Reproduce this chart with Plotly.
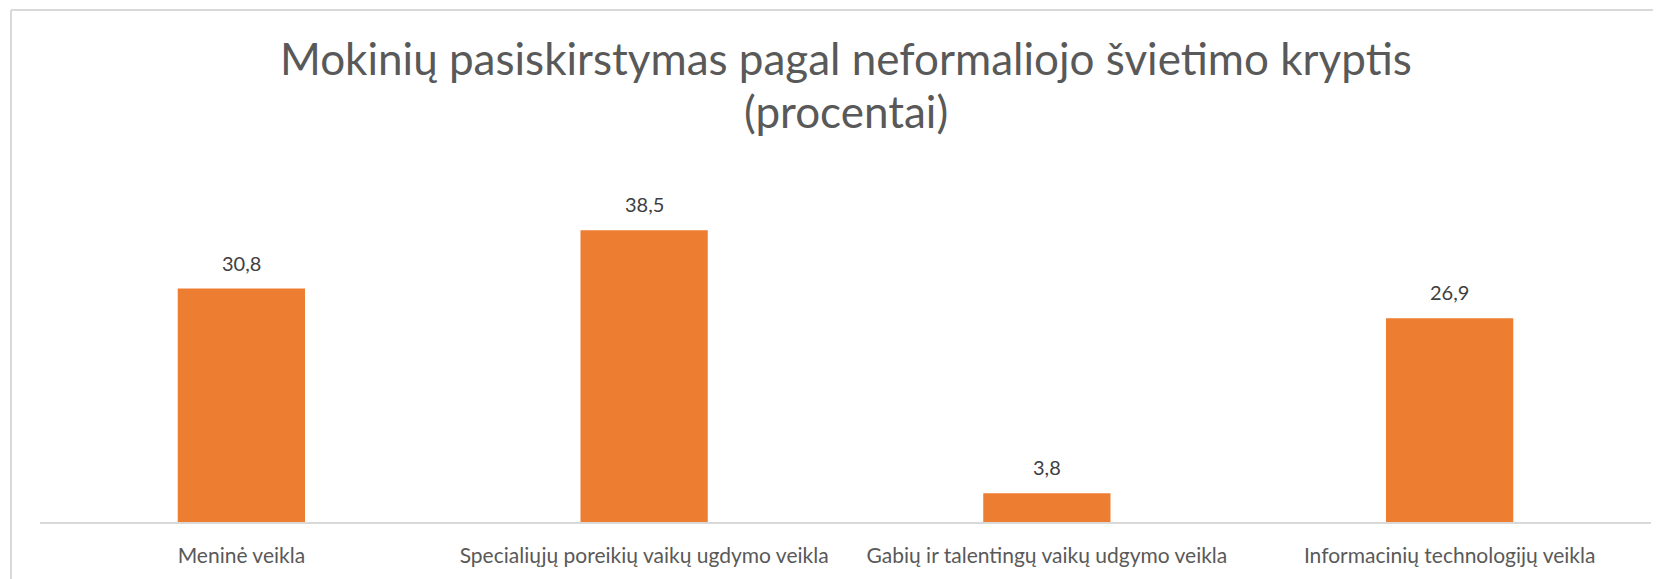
import plotly.graph_objects as go

categories = [
    "Meninė veikla",
    "Specialiųjų poreikių vaikų ugdymo veikla",
    "Gabių ir talentingų vaikų udgymo veikla",
    "Informacinių technologijų veikla",
]
values = [30.8, 38.5, 3.8, 26.9]
title_lines = ["Mokinių pasiskirstymas pagal neformaliojo švietimo kryptis", "(procentai)"]

FONT = "Lato"
BAR_COLOR = "#ED7D31"

# figure geometry (page has an 8px body margin)
W, H = 1653, 571
ML, MR, MT, MB = 32, 10, 173, 57
PH = H - MT - MB  # plot height in px
PW = W - ML - MR


def py(fig_y):
    """figure-pixel y -> paper y"""
    return (H - MB - fig_y) / PH


def px(fig_x):
    return (fig_x - ML) / PW


fig = go.Figure()
fig.add_trace(go.Bar(
    x=categories,
    y=values,
    marker=dict(color=BAR_COLOR, line=dict(width=0)),
    hoverinfo="skip",
))

for c, v in zip(categories, values):
    fig.add_annotation(
        x=c, y=v, xref="x", yref="y",
        text=f"{v:.1f}".replace(".", ","),
        showarrow=False, yanchor="middle", yshift=26,
        font=dict(family=FONT, size=20, color="#404040"),
    )

# title lines
for line, fy in zip(title_lines, [50, 103]):
    fig.add_annotation(
        x=0.5, y=py(fy), xref="paper", yref="paper",
        text=line, showarrow=False, xanchor="center", yanchor="middle",
        font=dict(family=FONT, size=44, color="#595959"),
    )

fig.update_layout(
    width=W, height=H, autosize=False,
    margin=dict(l=ML, r=MR, t=MT, b=MB),
    paper_bgcolor="white", plot_bgcolor="white",
    bargap=0.684,
    showlegend=False,
    xaxis=dict(
        showline=True, linecolor="#d9d9d9", linewidth=1.5,
        ticks="", showgrid=False, zeroline=False,
        tickfont=dict(family=FONT, size=21, color="#595959"),
        ticklabelstandoff=14,
    ),
    yaxis=dict(
        range=[0, 45], visible=False, showgrid=False, zeroline=False,
    ),
    shapes=[
        dict(type="line", xref="paper", yref="paper",
             x0=px(3), x1=px(W + 10), y0=py(2), y1=py(2),
             line=dict(color="#d9d9d9", width=2)),
        dict(type="line", xref="paper", yref="paper",
             x0=px(3), x1=px(3), y0=py(2), y1=py(H + 10),
             line=dict(color="#d9d9d9", width=2)),
    ],
)

fig.write_html("out.html")
